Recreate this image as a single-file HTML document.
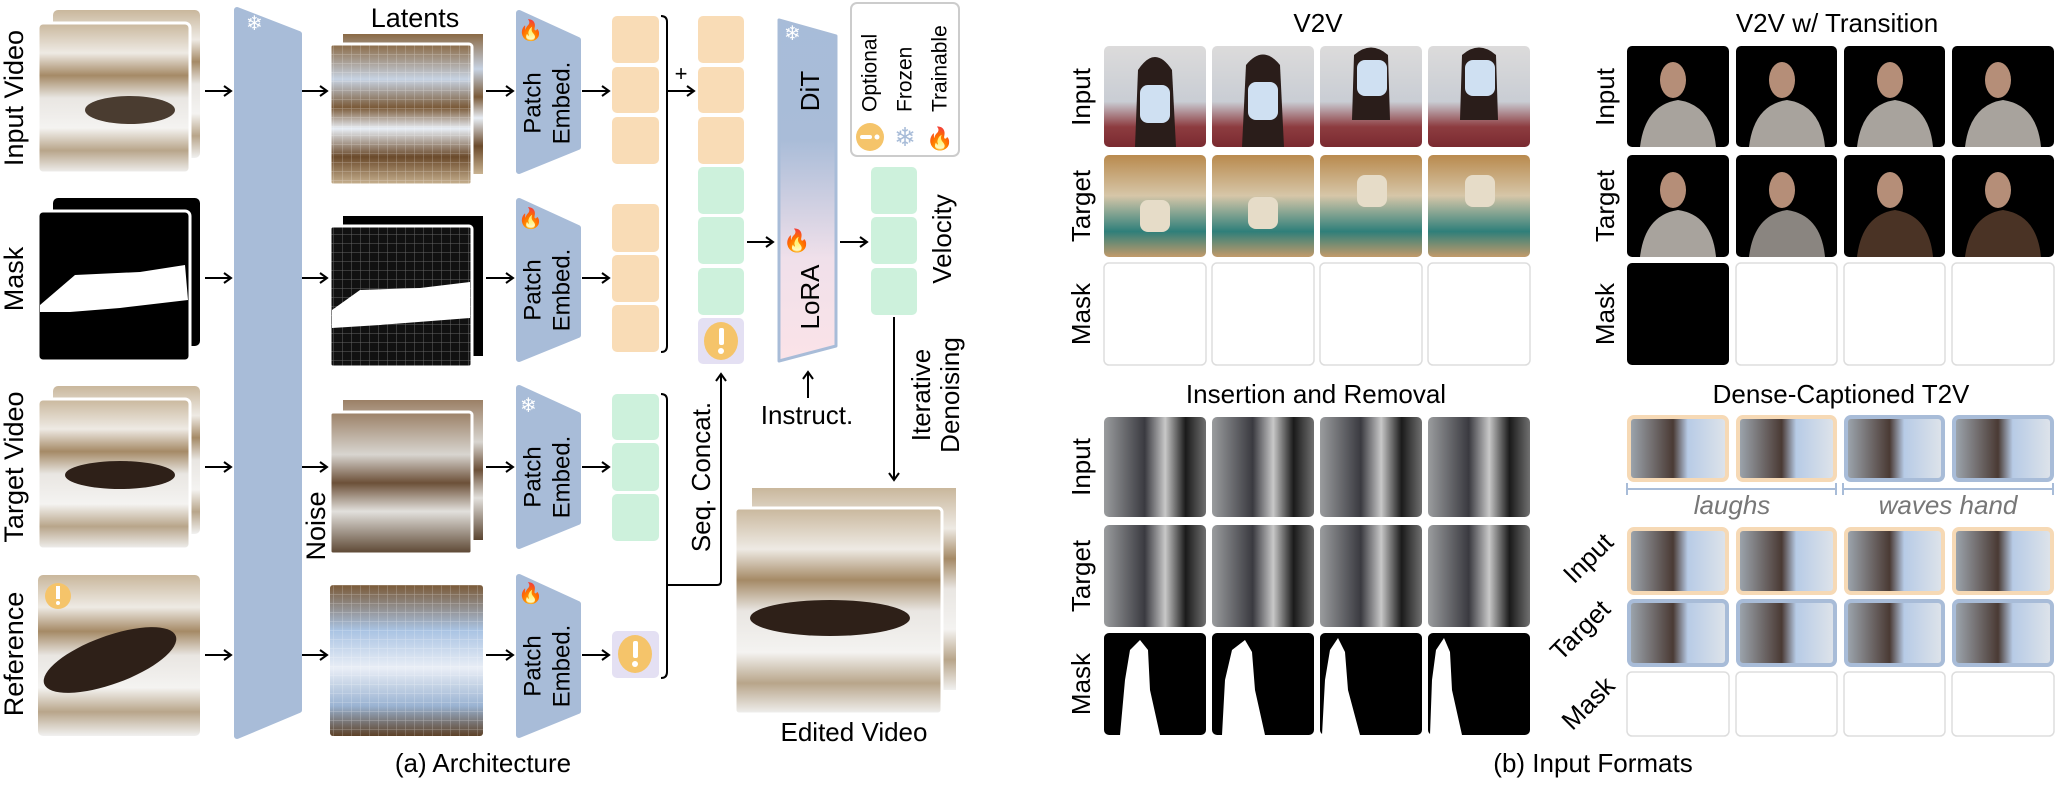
<!DOCTYPE html>
<html><head><meta charset="utf-8"><style>
html,body{margin:0;padding:0;background:#fff;}
svg{display:block;font-family:"Liberation Sans",sans-serif;}
</style></head><body>
<svg width="2057" height="789" viewBox="0 0 2057 789" xmlns="http://www.w3.org/2000/svg">
<defs>
<marker id="ah" markerWidth="12" markerHeight="12" refX="9" refY="6" orient="auto" markerUnits="userSpaceOnUse">
<path d="M2,1 L9,6 L2,11" fill="none" stroke="#000" stroke-width="2"/></marker>
<linearGradient id="snow" x1="0" y1="0" x2="0" y2="1">
<stop offset="0" stop-color="#c9b79c"/><stop offset="0.2" stop-color="#eeeae4"/><stop offset="0.35" stop-color="#a58a66"/><stop offset="0.5" stop-color="#e9e6e2"/><stop offset="0.7" stop-color="#f4f3f1"/><stop offset="0.85" stop-color="#b8a58a"/><stop offset="1" stop-color="#f1f1f0"/></linearGradient>
<linearGradient id="lat" x1="0" y1="0" x2="0" y2="1">
<stop offset="0" stop-color="#8a6a45"/><stop offset="0.25" stop-color="#c7d3e3"/><stop offset="0.45" stop-color="#7a5a38"/><stop offset="0.6" stop-color="#e8eef5"/><stop offset="0.8" stop-color="#6b4a2b"/><stop offset="1" stop-color="#c9b392"/></linearGradient>
<linearGradient id="lat2" x1="0" y1="0" x2="0" y2="1">
<stop offset="0" stop-color="#7a5a38"/><stop offset="0.3" stop-color="#a9c3e3"/><stop offset="0.55" stop-color="#e9eef6"/><stop offset="0.8" stop-color="#9ab3d2"/><stop offset="1" stop-color="#5d4127"/></linearGradient>
<linearGradient id="noise" x1="0" y1="0" x2="0" y2="1">
<stop offset="0" stop-color="#9b8066"/><stop offset="0.3" stop-color="#d8d5d0"/><stop offset="0.5" stop-color="#6c5038"/><stop offset="0.7" stop-color="#e2e0dc"/><stop offset="1" stop-color="#5a4430"/></linearGradient>
<pattern id="grid" width="9" height="9" patternUnits="userSpaceOnUse"><path d="M9,0 L0,0 0,9" fill="none" stroke="#fff" stroke-opacity="0.35" stroke-width="1"/></pattern>
<linearGradient id="dit" x1="0" y1="0" x2="0" y2="1">
<stop offset="0" stop-color="#a7bcd9"/><stop offset="0.35" stop-color="#a9bcd8"/><stop offset="0.7" stop-color="#f0e0ea"/><stop offset="1" stop-color="#fbe3e8"/></linearGradient>
<linearGradient id="v2vin" x1="0" y1="0" x2="0" y2="1">
<stop offset="0" stop-color="#dcdbdb"/><stop offset="0.55" stop-color="#c9cdd4"/><stop offset="0.8" stop-color="#8d3c40"/><stop offset="1" stop-color="#7a2a30"/></linearGradient>
<linearGradient id="v2vtg" x1="0" y1="0" x2="0" y2="1">
<stop offset="0" stop-color="#b98a4e"/><stop offset="0.4" stop-color="#d6c6a8"/><stop offset="0.75" stop-color="#2f7f7a"/><stop offset="1" stop-color="#c29a6a"/></linearGradient>
<radialGradient id="dark" cx="0.45" cy="0.6" r="0.6">
<stop offset="0" stop-color="#8a8580"/><stop offset="0.6" stop-color="#3a3330"/><stop offset="1" stop-color="#050505"/></radialGradient>
<radialGradient id="dark2" cx="0.45" cy="0.6" r="0.6">
<stop offset="0" stop-color="#5a4030"/><stop offset="0.6" stop-color="#2a1e18"/><stop offset="1" stop-color="#050505"/></radialGradient>
<linearGradient id="ins" x1="0" y1="0" x2="1" y2="0">
<stop offset="0" stop-color="#9a9c9e"/><stop offset="0.4" stop-color="#3a3a40"/><stop offset="0.6" stop-color="#c8c8c8"/><stop offset="0.8" stop-color="#1a1a1a"/><stop offset="1" stop-color="#707070"/></linearGradient>
<linearGradient id="dense" x1="0" y1="0" x2="1" y2="0">
<stop offset="0" stop-color="#9fa8b1"/><stop offset="0.45" stop-color="#4a3a34"/><stop offset="0.6" stop-color="#b7cbe6"/><stop offset="1" stop-color="#dfe4ea"/></linearGradient>
</defs>

<g font-size="27" text-anchor="middle" dominant-baseline="central" fill="#000">
<text transform="translate(14,98) rotate(-90)">Input Video</text>
<text transform="translate(14,279) rotate(-90)">Mask</text>
<text transform="translate(14,467) rotate(-90)">Target Video</text>
<text transform="translate(14,654) rotate(-90)">Reference</text>
<text transform="translate(268,373) rotate(-90)">Video VAE</text>
<text transform="translate(316,526) rotate(-90)">Noise</text>
<text x="415" y="18">Latents</text>
</g>

<rect x="53" y="10" width="147" height="148" rx="5" fill="url(#snow)"/>
<rect x="38" y="23" width="152" height="150" rx="5" fill="url(#snow)" stroke="#fff" stroke-width="3"/>
<ellipse cx="130" cy="110" rx="45" ry="14" fill="#4a3c30"/>
<rect x="53" y="198" width="147" height="148" rx="5" fill="#000"/>
<rect x="38" y="211" width="152" height="150" rx="5" fill="#000" stroke="#fff" stroke-width="3"/>
<path d="M40,305 L75,275 L140,272 L185,265 L188,300 L120,308 L70,312 L40,312Z" fill="#fff"/>
<rect x="53" y="386" width="147" height="148" rx="5" fill="url(#snow)"/>
<rect x="38" y="399" width="152" height="150" rx="5" fill="url(#snow)" stroke="#fff" stroke-width="3"/>
<ellipse cx="120" cy="475" rx="55" ry="14" fill="#2e2018"/>
<rect x="38" y="575" width="162" height="161" rx="5" fill="url(#snow)"/>
<ellipse cx="110" cy="660" rx="70" ry="24" fill="#2e2018" transform="rotate(-20 110 660)"/>
<circle cx="58" cy="596" r="13" fill="#f5c46a"/><rect x="56" y="586" width="4" height="13" fill="#fff"/><circle cx="58" cy="603" r="2" fill="#fff"/>

<g stroke="#000" stroke-width="2" marker-end="url(#ah)">
<line x1="205" y1="91" x2="231" y2="91"/><line x1="205" y1="278" x2="231" y2="278"/><line x1="205" y1="467" x2="231" y2="467"/><line x1="205" y1="655" x2="231" y2="655"/>
<line x1="301" y1="91" x2="327" y2="91"/><line x1="301" y1="278" x2="327" y2="278"/><line x1="301" y1="467" x2="327" y2="467"/><line x1="301" y1="655" x2="327" y2="655"/>
<line x1="486" y1="91" x2="513" y2="91"/><line x1="486" y1="278" x2="513" y2="278"/><line x1="486" y1="467" x2="513" y2="467"/><line x1="486" y1="655" x2="513" y2="655"/>
<line x1="582" y1="91" x2="609" y2="91"/><line x1="582" y1="278" x2="609" y2="278"/><line x1="582" y1="467" x2="609" y2="467"/><line x1="582" y1="655" x2="609" y2="655"/>
</g>
<path d="M237,10 L299,34 L299,710 L237,736Z" fill="#a8bcd8" stroke="#a8bcd8" stroke-width="6" stroke-linejoin="round"/>
<text x="246" y="30" font-size="20" fill="#fff">❄</text>

<rect x="343" y="34" width="140" height="140" fill="url(#lat)"/>
<rect x="330" y="44" width="142" height="141" rx="3" fill="url(#lat)" stroke="#fff" stroke-width="3"/>
<rect x="330" y="44" width="142" height="141" fill="url(#grid)"/>
<rect x="343" y="216" width="140" height="140" fill="#000"/>
<rect x="330" y="226" width="142" height="141" rx="3" fill="#111" stroke="#fff" stroke-width="3"/>
<path d="M332,310 L360,290 L420,288 L470,282 L470,318 L380,325 L332,328Z" fill="#fff"/>
<rect x="330" y="226" width="142" height="141" fill="url(#grid)"/>
<rect x="343" y="400" width="140" height="140" fill="url(#noise)"/>
<rect x="330" y="412" width="142" height="142" rx="3" fill="url(#noise)" stroke="#fff" stroke-width="3"/>
<rect x="330" y="585" width="153" height="151" rx="3" fill="url(#lat2)"/>
<rect x="330" y="585" width="153" height="151" fill="url(#grid)"/>

<g fill="#a8bcd8" stroke="#a8bcd8" stroke-width="6" stroke-linejoin="round">
<path d="M519,13 L578,40 L578,147 L519,171Z"/>
<path d="M519,201 L578,228 L578,335 L519,359Z"/>
<path d="M519,388 L578,415 L578,522 L519,546Z"/>
<path d="M519,577 L578,604 L578,711 L519,735Z"/>
</g>
<g font-size="24" text-anchor="middle" dominant-baseline="central">
<text transform="translate(533,103) rotate(-90)">Patch</text><text transform="translate(562,103) rotate(-90)">Embed.</text>
<text transform="translate(533,290) rotate(-90)">Patch</text><text transform="translate(562,290) rotate(-90)">Embed.</text>
<text transform="translate(533,477) rotate(-90)">Patch</text><text transform="translate(562,477) rotate(-90)">Embed.</text>
<text transform="translate(533,666) rotate(-90)">Patch</text><text transform="translate(562,666) rotate(-90)">Embed.</text>
</g>
<g font-size="20">
<text x="518" y="37">🔥</text><text x="518" y="225">🔥</text><text x="520" y="412" fill="#fff">❄</text><text x="518" y="600">🔥</text>
</g>

<g fill="#f9dcb6">
<rect x="612" y="16" width="47" height="47" rx="5"/><rect x="612" y="67" width="47" height="46" rx="5"/><rect x="612" y="117" width="47" height="47" rx="5"/>
<rect x="612" y="204" width="47" height="48" rx="5"/><rect x="612" y="255" width="47" height="47" rx="5"/><rect x="612" y="305" width="47" height="47" rx="5"/>
<rect x="698" y="16" width="46" height="47" rx="5"/><rect x="698" y="67" width="46" height="46" rx="5"/><rect x="698" y="117" width="46" height="47" rx="5"/>
</g>
<g fill="#cdf1dc">
<rect x="612" y="394" width="47" height="46" rx="5"/><rect x="612" y="443" width="47" height="48" rx="5"/><rect x="612" y="494" width="47" height="47" rx="5"/>
<rect x="698" y="167" width="46" height="47" rx="5"/><rect x="698" y="217" width="46" height="47" rx="5"/><rect x="698" y="268" width="46" height="47" rx="5"/>
<rect x="871" y="167" width="46" height="47" rx="5"/><rect x="871" y="217" width="46" height="47" rx="5"/><rect x="871" y="268" width="46" height="47" rx="5"/>
</g>
<rect x="612" y="631" width="47" height="47" rx="5" fill="#e4e0f3"/>
<ellipse cx="635" cy="654" rx="17" ry="19" fill="#f5c46a"/><rect x="633" y="641" width="5" height="17" rx="2" fill="#fff"/><circle cx="635" cy="664" r="3" fill="#fff"/>
<rect x="698" y="318" width="46" height="46" rx="5" fill="#e4e0f3"/>
<ellipse cx="721" cy="341" rx="17" ry="19" fill="#f5c46a"/><rect x="719" y="328" width="5" height="17" rx="2" fill="#fff"/><circle cx="721" cy="351" r="3" fill="#fff"/>

<g fill="none" stroke="#000" stroke-width="2">
<path d="M661,16 Q667,16 667,22 L667,346 Q667,352 661,352"/>
<path d="M661,394 Q667,394 667,400 L667,672 Q667,678 661,678"/>
<path d="M667,585 L717,585 Q721,585 721,581 L721,374" marker-end="url(#ah)"/>
<path d="M667,91 L694,91" marker-end="url(#ah)"/>
<line x1="747" y1="242" x2="773" y2="242" marker-end="url(#ah)"/>
<line x1="840" y1="242" x2="867" y2="242" marker-end="url(#ah)"/>
<line x1="808" y1="398" x2="808" y2="372" marker-end="url(#ah)"/>
<line x1="894" y1="317" x2="894" y2="480" marker-end="url(#ah)"/>
</g>
<text x="681" y="81" font-size="22" text-anchor="middle">+</text>
<text transform="translate(701,477) rotate(-90)" font-size="26" text-anchor="middle" dominant-baseline="central">Seq. Concat.</text>

<path d="M779,20 L836,36 L836,346 L779,361Z" fill="url(#dit)" stroke="#a8bcd8" stroke-width="3" stroke-linejoin="round"/>
<text x="784" y="40" font-size="20" fill="#fff">❄</text>
<text x="783" y="248" font-size="22">🔥</text>
<g font-size="26" text-anchor="middle" dominant-baseline="central">
<text transform="translate(810,91) rotate(-90)">DiT</text>
<text transform="translate(810,297) rotate(-90)">LoRA</text>
<text x="807" y="415">Instruct.</text>
<text transform="translate(942,239) rotate(-90)">Velocity</text>
<text transform="translate(921,395) rotate(-90)">Iterative</text>
<text transform="translate(950,395) rotate(-90)">Denoising</text>
<text x="854" y="732">Edited Video</text>
<text x="483" y="763">(a) Architecture</text>
</g>

<rect x="851" y="3" width="108" height="153" rx="6" fill="#fff" stroke="#ccc" stroke-width="2"/>
<g font-size="21" dominant-baseline="central">
<text transform="translate(870,112) rotate(-90)">Optional</text>
<text transform="translate(905,112) rotate(-90)">Frozen</text>
<text transform="translate(940,112) rotate(-90)">Trainable</text>
</g>
<circle cx="870" cy="137" r="14" fill="#f5c46a"/><rect x="860" y="135" width="12" height="4" rx="2" fill="#fff"/><circle cx="877" cy="137" r="2.5" fill="#fff"/>
<text x="905" y="146" font-size="26" fill="#a8bcd8" text-anchor="middle">❄</text>
<text x="940" y="146" font-size="22" text-anchor="middle">🔥</text>

<rect x="752" y="488" width="204" height="202" fill="url(#snow)"/>
<rect x="735" y="508" width="207" height="206" rx="4" fill="url(#snow)" stroke="#fff" stroke-width="3"/>
<ellipse cx="830" cy="618" rx="80" ry="18" fill="#2e2018"/>

<g font-size="26" text-anchor="middle" dominant-baseline="central">
<text x="1318" y="23">V2V</text>
<text x="1837" y="23">V2V w/ Transition</text>
<text x="1316" y="394">Insertion and Removal</text>
<text x="1841" y="394">Dense-Captioned T2V</text>
<text x="1593" y="763">(b) Input Formats</text>
<text transform="translate(1081,97) rotate(-90)">Input</text>
<text transform="translate(1081,206) rotate(-90)">Target</text>
<text transform="translate(1081,314) rotate(-90)">Mask</text>
<text transform="translate(1605,97) rotate(-90)">Input</text>
<text transform="translate(1605,206) rotate(-90)">Target</text>
<text transform="translate(1605,314) rotate(-90)">Mask</text>
<text transform="translate(1081,467) rotate(-90)">Input</text>
<text transform="translate(1081,576) rotate(-90)">Target</text>
<text transform="translate(1081,684) rotate(-90)">Mask</text>
<text transform="translate(1588,558) rotate(-45)">Input</text>
<text transform="translate(1580,630) rotate(-45)">Target</text>
<text transform="translate(1588,703) rotate(-45)">Mask</text>
</g>
<g font-size="26" font-style="italic" fill="#777" text-anchor="middle" dominant-baseline="central">
<text x="1732" y="505">laughs</text><text x="1948" y="505">waves hand</text>
</g>
<g stroke="#a8bcd8" stroke-width="2">
<line x1="1627" y1="489" x2="1836" y2="489"/><line x1="1627" y1="483" x2="1627" y2="495"/><line x1="1836" y1="483" x2="1836" y2="495"/>
<line x1="1843" y1="489" x2="2053" y2="489"/><line x1="1843" y1="483" x2="1843" y2="495"/><line x1="2053" y1="483" x2="2053" y2="495"/>
</g>

<g>
<rect x="1104" y="46" width="102" height="101" rx="5" fill="url(#v2vin)"/><rect x="1212" y="46" width="102" height="101" rx="5" fill="url(#v2vin)"/><rect x="1320" y="46" width="102" height="101" rx="5" fill="url(#v2vin)"/><rect x="1428" y="46" width="102" height="101" rx="5" fill="url(#v2vin)"/>
<rect x="1104" y="155" width="102" height="102" rx="5" fill="url(#v2vtg)"/><rect x="1212" y="155" width="102" height="102" rx="5" fill="url(#v2vtg)"/><rect x="1320" y="155" width="102" height="102" rx="5" fill="url(#v2vtg)"/><rect x="1428" y="155" width="102" height="102" rx="5" fill="url(#v2vtg)"/>
</g>
<g fill="#2a1d1a">
<path d="M1135,147 L1138,70 Q1155,44 1172,70 L1176,147Z"/><path d="M1242,147 L1246,65 Q1263,44 1280,65 L1284,147Z"/>
<path d="M1352,120 L1354,55 Q1371,40 1388,55 L1390,120Z"/><path d="M1460,120 L1462,55 Q1479,40 1496,55 L1498,120Z"/>
</g>
<g fill="#cfe0f2">
<rect x="1140" y="85" width="30" height="38" rx="8"/><rect x="1248" y="82" width="30" height="38" rx="8"/><rect x="1357" y="60" width="30" height="36" rx="8"/><rect x="1465" y="60" width="30" height="36" rx="8"/>
</g>
<g fill="#e6dcc8">
<rect x="1140" y="200" width="30" height="32" rx="8"/><rect x="1248" y="197" width="30" height="32" rx="8"/><rect x="1357" y="175" width="30" height="32" rx="8"/><rect x="1465" y="175" width="30" height="32" rx="8"/>
</g>
<g fill="#fff" stroke="#ddd" stroke-width="1.5">
<rect x="1104" y="263" width="102" height="102" rx="5"/><rect x="1212" y="263" width="102" height="102" rx="5"/><rect x="1320" y="263" width="102" height="102" rx="5"/><rect x="1428" y="263" width="102" height="102" rx="5"/>
<rect x="1736" y="263" width="101" height="102" rx="5"/><rect x="1844" y="263" width="101" height="102" rx="5"/><rect x="1952" y="263" width="102" height="102" rx="5"/>
<rect x="1627" y="672" width="102" height="64" rx="5"/><rect x="1736" y="672" width="101" height="64" rx="5"/><rect x="1844" y="672" width="101" height="64" rx="5"/><rect x="1952" y="672" width="102" height="64" rx="5"/>
</g>
<g fill="#000">
<rect x="1627" y="46" width="102" height="101" rx="5"/><rect x="1736" y="46" width="101" height="101" rx="5"/><rect x="1844" y="46" width="101" height="101" rx="5"/><rect x="1952" y="46" width="102" height="101" rx="5"/>
<rect x="1627" y="155" width="102" height="102" rx="5"/><rect x="1736" y="155" width="101" height="102" rx="5"/><rect x="1844" y="155" width="101" height="102" rx="5"/><rect x="1952" y="155" width="102" height="102" rx="5"/>
<rect x="1627" y="263" width="102" height="102" rx="5"/>
</g>
<g>
<path d="M1640,147 Q1645,105 1678,100 Q1712,105 1716,147Z" fill="#a8a39d"/><ellipse cx="1673" cy="80" rx="13" ry="18" fill="#b58e78"/>
<path d="M1749,147 Q1754,105 1787,100 Q1821,105 1825,147Z" fill="#a8a39d"/><ellipse cx="1782" cy="80" rx="13" ry="18" fill="#b58e78"/>
<path d="M1857,147 Q1862,105 1895,100 Q1929,105 1933,147Z" fill="#a8a39d"/><ellipse cx="1890" cy="80" rx="13" ry="18" fill="#b58e78"/>
<path d="M1965,147 Q1970,105 2003,100 Q2037,105 2041,147Z" fill="#a8a39d"/><ellipse cx="1998" cy="80" rx="13" ry="18" fill="#b58e78"/>
<path d="M1640,257 Q1645,215 1678,210 Q1712,215 1716,257Z" fill="#a8a39d"/><ellipse cx="1673" cy="190" rx="13" ry="18" fill="#b58e78"/>
<path d="M1749,257 Q1754,215 1787,210 Q1821,215 1825,257Z" fill="#8a8580"/><ellipse cx="1782" cy="190" rx="13" ry="18" fill="#b58e78"/>
<path d="M1857,257 Q1862,215 1895,210 Q1929,215 1933,257Z" fill="#4a3325"/><ellipse cx="1890" cy="190" rx="13" ry="18" fill="#b58e78"/>
<path d="M1965,257 Q1970,215 2003,210 Q2037,215 2041,257Z" fill="#4a3325"/><ellipse cx="1998" cy="190" rx="13" ry="18" fill="#b58e78"/>
</g>
<rect x="1104" y="417" width="102" height="100" rx="5" fill="url(#ins)"/><rect x="1212" y="417" width="102" height="100" rx="5" fill="url(#ins)"/><rect x="1320" y="417" width="102" height="100" rx="5" fill="url(#ins)"/><rect x="1428" y="417" width="102" height="100" rx="5" fill="url(#ins)"/>
<rect x="1104" y="525" width="102" height="102" rx="5" fill="url(#ins)"/><rect x="1212" y="525" width="102" height="102" rx="5" fill="url(#ins)"/><rect x="1320" y="525" width="102" height="102" rx="5" fill="url(#ins)"/><rect x="1428" y="525" width="102" height="102" rx="5" fill="url(#ins)"/>
<g fill="#000"><rect x="1104" y="633" width="102" height="102" rx="5"/><rect x="1212" y="633" width="102" height="102" rx="5"/><rect x="1320" y="633" width="102" height="102" rx="5"/><rect x="1428" y="633" width="102" height="102" rx="5"/></g>
<g fill="#fff">
<path d="M1120,735 L1125,680 L1130,650 L1140,640 L1148,650 L1150,690 L1160,735Z"/>
<path d="M1222,735 L1225,680 L1232,650 L1245,640 L1252,652 L1255,690 L1265,735Z"/>
<path d="M1322,735 L1325,680 L1330,650 L1338,638 L1345,652 L1348,690 L1360,735Z"/>
<path d="M1430,735 L1432,680 L1436,650 L1444,638 L1450,652 L1452,690 L1462,735Z"/>
</g>
<g stroke-width="4">
<rect x="1629" y="417" width="98" height="63" rx="5" fill="url(#dense)" stroke="#f6d9b5"/><rect x="1738" y="417" width="97" height="63" rx="5" fill="url(#dense)" stroke="#f6d9b5"/>
<rect x="1846" y="417" width="97" height="63" rx="5" fill="url(#dense)" stroke="#a8bcd8"/><rect x="1954" y="417" width="98" height="63" rx="5" fill="url(#dense)" stroke="#a8bcd8"/>
<rect x="1629" y="529" width="98" height="64" rx="5" fill="url(#dense)" stroke="#f6d9b5"/><rect x="1738" y="529" width="97" height="64" rx="5" fill="url(#dense)" stroke="#f6d9b5"/><rect x="1846" y="529" width="97" height="64" rx="5" fill="url(#dense)" stroke="#f6d9b5"/><rect x="1954" y="529" width="98" height="64" rx="5" fill="url(#dense)" stroke="#f6d9b5"/>
<rect x="1629" y="601" width="98" height="64" rx="5" fill="url(#dense)" stroke="#a8bcd8"/><rect x="1738" y="601" width="97" height="64" rx="5" fill="url(#dense)" stroke="#a8bcd8"/><rect x="1846" y="601" width="97" height="64" rx="5" fill="url(#dense)" stroke="#a8bcd8"/><rect x="1954" y="601" width="98" height="64" rx="5" fill="url(#dense)" stroke="#a8bcd8"/>
</g>
</svg>
</body></html>
